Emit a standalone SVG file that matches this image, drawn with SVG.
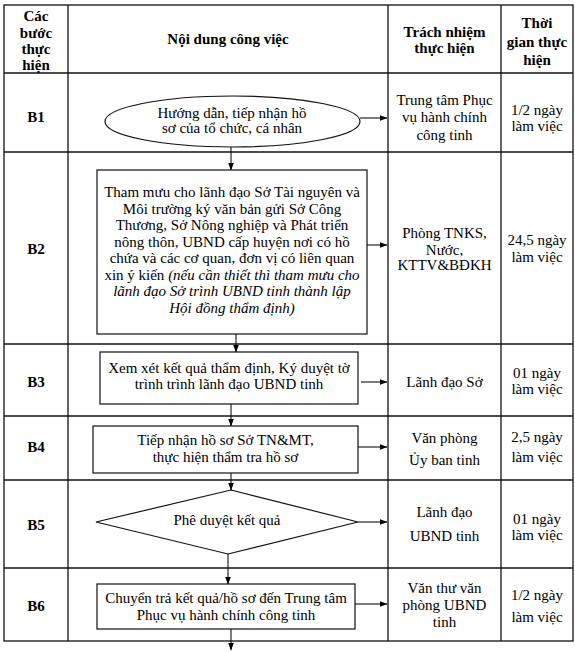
<svg xmlns="http://www.w3.org/2000/svg" width="575" height="652" viewBox="0 0 575 652">
<defs>
<marker id="ah" markerWidth="8" markerHeight="6" refX="7.5" refY="3" orient="auto" markerUnits="userSpaceOnUse">
<path d="M0,0 L8,3 L0,6 Z" fill="#000"/>
</marker>
</defs>
<style>
text{font-family:"Liberation Serif","Times New Roman",serif;font-size:15px;fill:#000;text-anchor:middle}
.b{font-weight:bold}
.i{font-style:italic}
.grid{stroke:#111;stroke-width:1.3;fill:none}
.shape{stroke:#111;stroke-width:1.2;fill:#fff}
.conn{stroke:#111;stroke-width:1.1;fill:none;marker-end:url(#ah)}
</style>
<rect width="575" height="652" fill="#fff"/>
<g id="table" class="grid">
<rect x="4" y="5" width="569" height="636"/>
<line x1="68" y1="5" x2="68" y2="641"/>
<line x1="388" y1="5" x2="388" y2="641"/>
<line x1="501" y1="5" x2="501" y2="641"/>
<line x1="4" y1="73" x2="573" y2="73"/>
<line x1="4" y1="152" x2="573" y2="152"/>
<line x1="4" y1="344" x2="573" y2="344"/>
<line x1="4" y1="416" x2="573" y2="416"/>
<line x1="4" y1="480" x2="573" y2="480"/>
<line x1="4" y1="568" x2="573" y2="568"/>
</g>
<g id="header">
<text class="b" x="36" y="21">Các</text>
<text class="b" x="36" y="37.5">bước</text>
<text class="b" x="36" y="54">thực</text>
<text class="b" x="36" y="70">hiện</text>
<text class="b" x="228" y="44">Nội dung công việc</text>
<text class="b" x="444.5" y="37">Trách nhiệm</text>
<text class="b" x="444.5" y="53">thực hiện</text>
<text class="b" x="537" y="28">Thời</text>
<text class="b" x="537" y="47">gian thực</text>
<text class="b" x="537" y="65">hiện</text>
</g>
<g id="labels">
<text class="b" x="36" y="122">B1</text>
<text class="b" x="36" y="254">B2</text>
<text class="b" x="36" y="387">B3</text>
<text class="b" x="36" y="452">B4</text>
<text class="b" x="36" y="530">B5</text>
<text class="b" x="36" y="611">B6</text>
</g>
<g id="b1">
<ellipse class="shape" cx="232.5" cy="121.5" rx="127.5" ry="25.5"/>
<text x="232" y="118">Hướng dẫn, tiếp nhận hồ</text>
<text x="232" y="133">sơ của tổ chức, cá nhân</text>
</g>
<g id="b2">
<rect class="shape" x="97" y="170" width="270" height="164"/>
<text x="232" y="197">Tham mưu cho lãnh đạo Sở Tài nguyên và</text>
<text x="232" y="213.5">Môi trường ký văn bản gửi Sở Công</text>
<text x="232" y="230">Thương, Sở Nông nghiệp và Phát triển</text>
<text x="232" y="246.5">nông thôn, UBND cấp huyện nơi có hồ</text>
<text x="232" y="263">chứa và các cơ quan, đơn vị có liên quan</text>
<text x="232" y="279.5">xin ý kiến <tspan class="i">(nếu cần thiết thì tham mưu cho</tspan></text>
<text class="i" x="232" y="296">lãnh đạo Sở trình UBND tinh thành lập</text>
<text class="i" x="232" y="312.5">Hội đồng thẩm định)</text>
</g>
<g id="b3">
<rect class="shape" x="100" y="352" width="258" height="52"/>
<text x="229" y="373">Xem xét kết quả thẩm định, Ký duyệt tờ</text>
<text x="229" y="389">trình trình lãnh đạo UBND tinh</text>
</g>
<g id="b4">
<rect class="shape" x="93" y="426" width="265" height="47"/>
<text x="225.5" y="445">Tiếp nhận hồ sơ Sở TN&amp;MT,</text>
<text x="225.5" y="462">thực hiện thẩm tra hồ sơ</text>
</g>
<g id="b5">
<polygon class="shape" points="231,490 358,522 228,554 96,522"/>
<text x="227" y="525">Phê duyệt kết quả</text>
</g>
<g id="b6">
<rect class="shape" x="97" y="584" width="258" height="45"/>
<text x="226" y="603">Chuyển trả kết quả/hồ sơ đến Trung tâm</text>
<text x="226" y="620">Phục vụ hành chính công tinh</text>
</g>
<g id="responsible">
<text x="444.5" y="104.5">Trung tâm Phục</text>
<text x="444.5" y="122">vụ hành chính</text>
<text x="444.5" y="139.5">công tinh</text>
<text x="444.5" y="238">Phòng TNKS,</text>
<text x="444.5" y="255">Nước,</text>
<text x="444.5" y="270">KTTV&amp;BĐKH</text>
<text x="444.5" y="387">Lãnh đạo Sở</text>
<text x="444.5" y="443">Văn phòng</text>
<text x="444.5" y="465">Ủy ban tinh</text>
<text x="444.5" y="517">Lãnh đạo</text>
<text x="444.5" y="541">UBND tinh</text>
<text x="444.5" y="593">Văn thư văn</text>
<text x="444.5" y="610">phòng UBND</text>
<text x="444.5" y="627">tinh</text>
</g>
<g id="time">
<text x="537" y="115">1/2 ngày</text>
<text x="537" y="131">làm việc</text>
<text x="537" y="245">24,5 ngày</text>
<text x="537" y="262">làm việc</text>
<text x="537" y="378">01 ngày</text>
<text x="537" y="394">làm việc</text>
<text x="537" y="442">2,5 ngày</text>
<text x="537" y="462">làm việc</text>
<text x="537" y="524">01 ngày</text>
<text x="537" y="540">làm việc</text>
<text x="537" y="600">1/2 ngày</text>
<text x="537" y="622">làm việc</text>
</g>
<g id="connectors">
<line class="conn" x1="231" y1="147" x2="231" y2="170"/>
<line class="conn" x1="236" y1="334" x2="236" y2="352"/>
<line class="conn" x1="231" y1="404" x2="231" y2="426"/>
<line class="conn" x1="231" y1="473" x2="231" y2="490"/>
<line class="conn" x1="228" y1="554" x2="228" y2="584"/>
<line class="conn" x1="231" y1="629" x2="231" y2="650"/>
<line class="conn" x1="360" y1="118" x2="387" y2="118"/>
<line class="conn" x1="367" y1="245" x2="387" y2="245"/>
<line class="conn" x1="361" y1="382" x2="387" y2="382"/>
<line class="conn" x1="358" y1="447" x2="387" y2="447"/>
<line class="conn" x1="358" y1="522" x2="387" y2="522"/>
<line class="conn" x1="355" y1="604" x2="387" y2="604"/>
</g>
</svg>
